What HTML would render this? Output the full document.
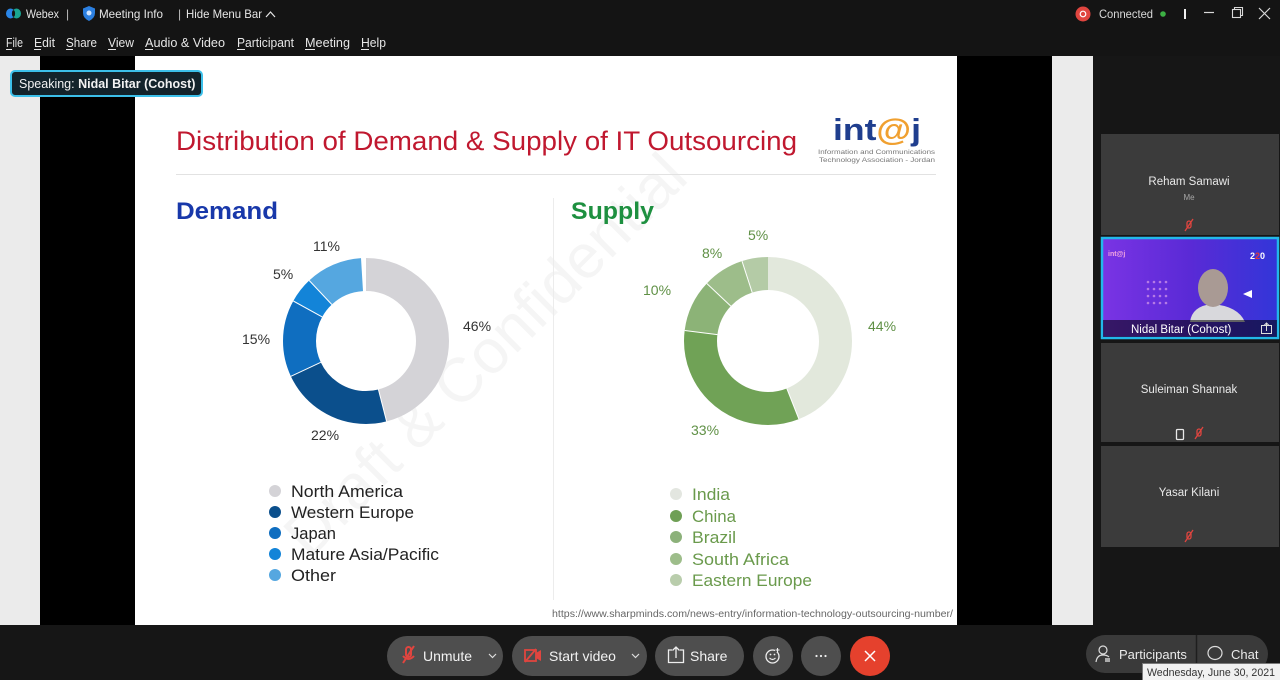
<!DOCTYPE html>
<html><head><meta charset="utf-8"><style>
html,body{margin:0;padding:0;background:#161616;}
svg{display:block;}
text{font-family:"Liberation Sans",sans-serif;}
</style></head><body>
<svg width="1280" height="680" viewBox="0 0 1280 680" xmlns="http://www.w3.org/2000/svg">
<rect x="0" y="0" width="1280" height="680" fill="#161616"/>
<!-- top bar -->
<rect x="0" y="0" width="1280" height="56" fill="#141414"/>
<g>
 <ellipse cx="10.5" cy="13.5" rx="4.5" ry="5" fill="#2a86e8"/>
 <ellipse cx="16.5" cy="13.5" rx="4.5" ry="5" fill="#1bb6a0" opacity="0.9"/>
 <ellipse cx="13.5" cy="13.5" rx="1.6" ry="3.4" fill="#141414"/>
</g>
<text x="26" y="18" font-size="12" fill="#e6e6e6" textLength="33" lengthAdjust="spacingAndGlyphs">Webex</text>
<text x="66" y="18" font-size="12" fill="#bdbdbd">|</text>
<path d="M89 6 L95 8.5 L95 13 Q95 18 89 21 Q83 18 83 13 L83 8.5 Z" fill="#2b7fe0"/>
<circle cx="89" cy="13" r="2.5" fill="#cfe4ff"/>
<text x="99" y="18" font-size="12" fill="#e6e6e6" textLength="64" lengthAdjust="spacingAndGlyphs">Meeting Info</text>
<text x="178" y="18" font-size="12" fill="#bdbdbd">|</text>
<text x="186" y="18" font-size="12" fill="#e6e6e6" textLength="76" lengthAdjust="spacingAndGlyphs">Hide Menu Bar</text>
<path d="M266 17 L270.5 12 L275 17" stroke="#e6e6e6" stroke-width="1.2" fill="none"/>
<g font-size="12.5" fill="#e6e6e6">
 <text x="6" y="47" textLength="17" lengthAdjust="spacingAndGlyphs">File</text>
 <text x="34" y="47" textLength="21" lengthAdjust="spacingAndGlyphs">Edit</text>
 <text x="66" y="47" textLength="31" lengthAdjust="spacingAndGlyphs">Share</text>
 <text x="108" y="47" textLength="26" lengthAdjust="spacingAndGlyphs">View</text>
 <text x="145" y="47" textLength="80" lengthAdjust="spacingAndGlyphs">Audio &amp; Video</text>
 <text x="237" y="47" textLength="57" lengthAdjust="spacingAndGlyphs">Participant</text>
 <text x="305" y="47" textLength="45" lengthAdjust="spacingAndGlyphs">Meeting</text>
 <text x="361" y="47" textLength="25" lengthAdjust="spacingAndGlyphs">Help</text>
</g>
<g stroke="#e6e6e6" stroke-width="1">
 <line x1="6" y1="49.5" x2="12" y2="49.5"/>
 <line x1="34" y1="49.5" x2="41" y2="49.5"/>
 <line x1="66" y1="49.5" x2="73" y2="49.5"/>
 <line x1="108" y1="49.5" x2="116" y2="49.5"/>
 <line x1="145" y1="49.5" x2="153" y2="49.5"/>
 <line x1="237" y1="49.5" x2="245" y2="49.5"/>
 <line x1="305" y1="49.5" x2="315" y2="49.5"/>
 <line x1="361" y1="49.5" x2="369" y2="49.5"/>
</g>
<!-- top right -->
<circle cx="1083" cy="14" r="7.5" fill="#e0453f"/>
<circle cx="1083" cy="14" r="2.8" fill="none" stroke="#fff" stroke-width="1.2"/>
<text x="1099" y="18" font-size="12" fill="#d8d8d8" textLength="54" lengthAdjust="spacingAndGlyphs">Connected</text>
<circle cx="1163" cy="14" r="2.8" fill="#3cb043"/>
<rect x="1184" y="9" width="2" height="10" fill="#f0f0f0"/>
<line x1="1204" y1="12.5" x2="1214" y2="12.5" stroke="#d8d8d8" stroke-width="1.2"/>
<rect x="1232.5" y="9.5" width="8" height="8" fill="none" stroke="#d8d8d8" stroke-width="1.1"/>
<path d="M1234.5 9.5 V7.5 H1242.5 V15.5 H1240.5" fill="none" stroke="#d8d8d8" stroke-width="1.1"/>
<path d="M1259 8 L1270 19 M1270 8 L1259 19" stroke="#d8d8d8" stroke-width="1.2"/>

<!-- main share area -->
<rect x="0" y="56" width="40" height="569" fill="#ebebeb"/>
<rect x="40" y="56" width="95" height="569" fill="#000"/>
<rect x="135" y="56" width="822" height="569" fill="#ffffff"/>
<rect x="957" y="56" width="95" height="569" fill="#000"/>
<rect x="1052" y="56" width="41" height="569" fill="#ebebeb"/>

<!-- slide content -->
<text x="500" y="370" font-size="62" fill="#f5f5f5" text-anchor="middle" transform="rotate(-45 500 370)">Draft &amp; Confidential</text>
<text x="176" y="150" font-size="27" fill="#c0182f" textLength="621" lengthAdjust="spacingAndGlyphs">Distribution of Demand &amp; Supply of IT Outsourcing</text>
<line x1="176" y1="174.5" x2="936" y2="174.5" stroke="#e2e2e2" stroke-width="1"/>
<!-- logo -->
<text x="833" y="140" font-size="31" font-weight="bold" fill="#1f3e8e" textLength="88" lengthAdjust="spacingAndGlyphs">int<tspan fill="#f0a030">@</tspan>j</text>
<text x="818" y="154" font-size="6.4" fill="#777" textLength="117" lengthAdjust="spacingAndGlyphs">Information and Communications</text>
<text x="819" y="162" font-size="6.4" fill="#777" textLength="116" lengthAdjust="spacingAndGlyphs">Technology Association - Jordan</text>

<text x="176" y="219" font-size="24" font-weight="bold" fill="#1838aa" textLength="102" lengthAdjust="spacingAndGlyphs">Demand</text>
<text x="571" y="219" font-size="24" font-weight="bold" fill="#1e9040" textLength="83" lengthAdjust="spacingAndGlyphs">Supply</text>
<line x1="553.5" y1="198" x2="553.5" y2="600" stroke="#ececec" stroke-width="1"/>

<!-- demand donut -->
<g transform="rotate(-90 366 341)" fill="none" stroke-width="33">
 <circle cx="366" cy="341" r="66.5" stroke="#d4d3d7" stroke-dasharray="192.20 417.83" stroke-dashoffset="0"/>
 <circle cx="366" cy="341" r="66.5" stroke="#0b4f8c" stroke-dasharray="91.92 417.83" stroke-dashoffset="-192.20"/>
 <circle cx="366" cy="341" r="66.5" stroke="#0f6ec0" stroke-dasharray="62.67 417.83" stroke-dashoffset="-284.12"/>
 <circle cx="366" cy="341" r="66.5" stroke="#1384d8" stroke-dasharray="20.89 417.83" stroke-dashoffset="-346.79"/>
 <circle cx="366" cy="341" r="66.5" stroke="#55a7e0" stroke-dasharray="45.96 417.83" stroke-dashoffset="-367.68"/>
</g>
<g stroke="#fff" stroke-width="1">
 <line x1="378.4" y1="389.4" x2="386.6" y2="421.4"/>
 <line x1="320.8" y1="362.3" x2="290.9" y2="376.3"/>
 <line x1="322.2" y1="316.9" x2="293.3" y2="301.0"/>
 <line x1="331.8" y1="304.5" x2="309.2" y2="280.5"/>
</g>
<g font-size="14" fill="#333">
 <text x="463" y="331">46%</text>
 <text x="311" y="440">22%</text>
 <text x="242" y="344">15%</text>
 <text x="273" y="279">5%</text>
 <text x="313" y="251">11%</text>
</g>

<!-- supply donut -->
<g transform="rotate(-90 768 341)" fill="none" stroke-width="33">
 <circle cx="768" cy="341" r="67.5" stroke="#e2e8dc" stroke-dasharray="186.61 424.12" stroke-dashoffset="0"/>
 <circle cx="768" cy="341" r="67.5" stroke="#70a256" stroke-dasharray="139.96 424.12" stroke-dashoffset="-186.61"/>
 <circle cx="768" cy="341" r="67.5" stroke="#8cb377" stroke-dasharray="42.41 424.12" stroke-dashoffset="-326.57"/>
 <circle cx="768" cy="341" r="67.5" stroke="#9dbd8a" stroke-dasharray="33.93 424.12" stroke-dashoffset="-368.98"/>
 <circle cx="768" cy="341" r="67.5" stroke="#b4cba6" stroke-dasharray="21.21 424.12" stroke-dashoffset="-402.91"/>
</g>
<g stroke="#fff" stroke-width="1">
 <line x1="786.8" y1="388.4" x2="798.9" y2="419.1"/>
 <line x1="717.4" y1="334.6" x2="684.7" y2="330.5"/>
 <line x1="730.8" y1="306.1" x2="706.8" y2="283.5"/>
 <line x1="752.2" y1="292.5" x2="742.0" y2="261.1"/>
</g>
<g font-size="14" fill="#5f9045">
 <text x="868" y="331">44%</text>
 <text x="691" y="435">33%</text>
 <text x="643" y="295">10%</text>
 <text x="702" y="258">8%</text>
 <text x="748" y="240">5%</text>
</g>

<!-- legends -->
<circle cx="275" cy="491" r="6" fill="#d4d3d7"/>
<circle cx="275" cy="512" r="6" fill="#0b4f8c"/>
<circle cx="275" cy="533" r="6" fill="#0f6ec0"/>
<circle cx="275" cy="554" r="6" fill="#1384d8"/>
<circle cx="275" cy="575" r="6" fill="#55a7e0"/>
<g font-size="17" fill="#222">
 <text x="291" y="497" textLength="112" lengthAdjust="spacingAndGlyphs">North America</text>
 <text x="291" y="518" textLength="123" lengthAdjust="spacingAndGlyphs">Western Europe</text>
 <text x="291" y="539" textLength="45" lengthAdjust="spacingAndGlyphs">Japan</text>
 <text x="291" y="560" textLength="148" lengthAdjust="spacingAndGlyphs">Mature Asia/Pacific</text>
 <text x="291" y="581" textLength="45" lengthAdjust="spacingAndGlyphs">Other</text>
</g>
<circle cx="676" cy="494" r="6" fill="#e3e6e0"/>
<circle cx="676" cy="516" r="6" fill="#6f9f55"/>
<circle cx="676" cy="537" r="6" fill="#8cb17a"/>
<circle cx="676" cy="559" r="6" fill="#9dbd8a"/>
<circle cx="676" cy="580" r="6" fill="#b9cdac"/>
<g font-size="17" fill="#6a9a4c">
 <text x="692" y="500" textLength="38" lengthAdjust="spacingAndGlyphs">India</text>
 <text x="692" y="522" textLength="44" lengthAdjust="spacingAndGlyphs">China</text>
 <text x="692" y="543" textLength="44" lengthAdjust="spacingAndGlyphs">Brazil</text>
 <text x="692" y="565" textLength="97" lengthAdjust="spacingAndGlyphs">South Africa</text>
 <text x="692" y="586" textLength="120" lengthAdjust="spacingAndGlyphs">Eastern Europe</text>
</g>
<text x="552" y="617" font-size="10" fill="#666" textLength="401" lengthAdjust="spacingAndGlyphs">https://www.sharpminds.com/news-entry/information-technology-outsourcing-number/</text>

<!-- speaking badge -->
<rect x="11" y="71" width="191" height="25" rx="4" fill="#13232b" stroke="#3cc0ea" stroke-width="2"/>
<text x="19" y="88" font-size="12.5" fill="#f2f2f2">Speaking: <tspan font-weight="bold">Nidal Bitar (Cohost)</tspan></text>

<!-- right panel tiles -->
<rect x="1101" y="134" width="178" height="101" fill="#3b3b3b"/>
<text x="1189" y="185" font-size="11.5" fill="#e8e8e8" text-anchor="middle">Reham Samawi</text>
<text x="1189" y="200" font-size="8" fill="#a8a8a8" text-anchor="middle">Me</text>
<g stroke="#e0453f" stroke-width="1.3" fill="none">
 <rect x="1187" y="221" width="4" height="7" rx="2"/><line x1="1185" y1="231" x2="1193" y2="219"/>
</g>
<!-- video tile -->
<defs>
 <linearGradient id="vg" x1="0" y1="0" x2="1" y2="0">
  <stop offset="0" stop-color="#7a34e4"/>
  <stop offset="0.5" stop-color="#5a2ad6"/>
  <stop offset="1" stop-color="#3236d8"/>
 </linearGradient>
</defs>
<rect x="1102" y="238" width="176" height="100" fill="url(#vg)" stroke="#22b8ea" stroke-width="2.5"/>
<text x="1108" y="256" font-size="7" font-weight="bold" fill="#f3a6e0">int@j</text>
<text x="1250" y="259" font-size="9" font-weight="bold" fill="#fff">2<tspan fill="#e03a3a">2</tspan>0</text>
<g fill="#c98ee8" opacity="0.8">
 <circle cx="1148" cy="282" r="1.3"/><circle cx="1154" cy="282" r="1.3"/><circle cx="1160" cy="282" r="1.3"/><circle cx="1166" cy="282" r="1.3"/>
 <circle cx="1148" cy="289" r="1.3"/><circle cx="1154" cy="289" r="1.3"/><circle cx="1160" cy="289" r="1.3"/><circle cx="1166" cy="289" r="1.3"/>
 <circle cx="1148" cy="296" r="1.3"/><circle cx="1154" cy="296" r="1.3"/><circle cx="1160" cy="296" r="1.3"/><circle cx="1166" cy="296" r="1.3"/>
 <circle cx="1148" cy="303" r="1.3"/><circle cx="1154" cy="303" r="1.3"/><circle cx="1160" cy="303" r="1.3"/><circle cx="1166" cy="303" r="1.3"/>
</g>
<path d="M1190 322 Q1192 306 1212 304 Q1238 306 1245 322 Z" fill="#d8d8dc"/>
<ellipse cx="1213" cy="288" rx="15" ry="19" fill="#a99a94"/>
<path d="M1243 294 L1252 290 L1252 298 Z" fill="#fff"/>
<rect x="1103" y="320" width="174" height="17" fill="#000" opacity="0.55"/>
<text x="1131" y="333" font-size="11.5" fill="#fff">Nidal Bitar  (Cohost)</text>
<rect x="1261.5" y="325.5" width="10" height="8" fill="none" stroke="#ddd" stroke-width="1"/>
<path d="M1266.5 331 V323 M1264 325.5 L1266.5 323 L1269 325.5" stroke="#ddd" stroke-width="1" fill="none"/>

<rect x="1101" y="343" width="178" height="99" fill="#3b3b3b"/>
<text x="1189" y="393" font-size="11.5" fill="#e8e8e8" text-anchor="middle">Suleiman Shannak</text>
<rect x="1176.5" y="429.5" width="7" height="10" rx="1" fill="none" stroke="#e8e8e8" stroke-width="1.3"/>
<g stroke="#e0453f" stroke-width="1.3" fill="none">
 <rect x="1197" y="429" width="4" height="7" rx="2"/><line x1="1195" y1="439" x2="1203" y2="427"/>
</g>
<rect x="1101" y="446" width="178" height="101" fill="#3b3b3b"/>
<text x="1189" y="496" font-size="11.5" fill="#e8e8e8" text-anchor="middle">Yasar Kilani</text>
<g stroke="#e0453f" stroke-width="1.3" fill="none">
 <rect x="1187" y="532" width="4" height="7" rx="2"/><line x1="1185" y1="542" x2="1193" y2="530"/>
</g>

<!-- bottom controls -->
<rect x="387" y="636" width="116" height="40" rx="20" fill="#4e4e4e"/>
<g stroke="#e0453f" stroke-width="2" fill="none">
 <rect x="406" y="647" width="5" height="10" rx="2.5"/><line x1="403" y1="663" x2="414" y2="646"/>
 <path d="M403 656 Q408.5 662 414 656"/>
</g>
<text x="423" y="661" font-size="14" fill="#f2f2f2">Unmute</text>
<path d="M489 654 L492.5 657.5 L496 654" stroke="#ddd" stroke-width="1.2" fill="none"/>

<rect x="512" y="636" width="135" height="40" rx="20" fill="#4e4e4e"/>
<rect x="525" y="650" width="11" height="11" fill="none" stroke="#e0453f" stroke-width="1.8"/>
<path d="M536 653 L541 650 L541 661 L536 658 Z" fill="#e0453f"/>
<line x1="525" y1="662" x2="536" y2="649" stroke="#e0453f" stroke-width="1.8"/>
<text x="549" y="661" font-size="14" fill="#f2f2f2">Start video</text>
<path d="M632 654 L635.5 657.5 L639 654" stroke="#ddd" stroke-width="1.2" fill="none"/>

<rect x="655" y="636" width="89" height="40" rx="20" fill="#4e4e4e"/>
<path d="M672 650 H668.5 V662.5 H683.5 V650 H680" stroke="#eee" stroke-width="1.3" fill="none"/>
<path d="M676 658 V647 M672.5 650.5 L676 647 L679.5 650.5" stroke="#eee" stroke-width="1.3" fill="none"/>
<text x="690" y="661" font-size="14" fill="#f2f2f2">Share</text>

<circle cx="773" cy="656" r="20" fill="#4e4e4e"/>
<circle cx="772.5" cy="656.5" r="6.5" fill="none" stroke="#eee" stroke-width="1.3"/>
<path d="M769.5 658 Q772.5 661 775.5 658" stroke="#eee" stroke-width="1.2" fill="none"/>
<circle cx="770.5" cy="654.5" r="0.9" fill="#eee"/><circle cx="774.5" cy="654.5" r="0.9" fill="#eee"/>
<path d="M777 648 V652 M775 650 H779" stroke="#4e4e4e" stroke-width="3"/>
<path d="M777.5 648 V652 M775.5 650 H779.5" stroke="#eee" stroke-width="1.1"/>

<circle cx="821" cy="656" r="20" fill="#4e4e4e"/>
<circle cx="816.5" cy="656" r="1.1" fill="#eee"/><circle cx="821" cy="656" r="1.1" fill="#eee"/><circle cx="825.5" cy="656" r="1.1" fill="#eee"/>

<circle cx="870" cy="656" r="20" fill="#e5412d"/>
<path d="M865 651 L875 661 M875 651 L865 661" stroke="#fff" stroke-width="1.5"/>

<rect x="1086" y="635" width="182" height="38" rx="19" fill="#3a3a3a"/>
<line x1="1196.5" y1="635" x2="1196.5" y2="673" stroke="#1e1e1e" stroke-width="1.5"/>
<circle cx="1103" cy="650" r="4" fill="none" stroke="#ddd" stroke-width="1.2"/>
<path d="M1096 662 Q1097 655 1103 655 Q1107 655 1109 657" fill="none" stroke="#ddd" stroke-width="1.2"/>
<rect x="1105" y="658" width="5" height="4" fill="#aaa"/>
<text x="1119" y="659" font-size="13" fill="#eaeaea">Participants</text>
<ellipse cx="1215" cy="653" rx="7" ry="6.5" fill="none" stroke="#ddd" stroke-width="1.2"/>
<text x="1231" y="659" font-size="13" fill="#eaeaea">Chat</text>
<rect x="1142.5" y="663.5" width="138" height="17" fill="#f1f1f1" stroke="#7a7a7a" stroke-width="1"/>
<text x="1147" y="676" font-size="11" fill="#333" textLength="128" lengthAdjust="spacingAndGlyphs">Wednesday, June 30, 2021</text>
</svg>
</body></html>
